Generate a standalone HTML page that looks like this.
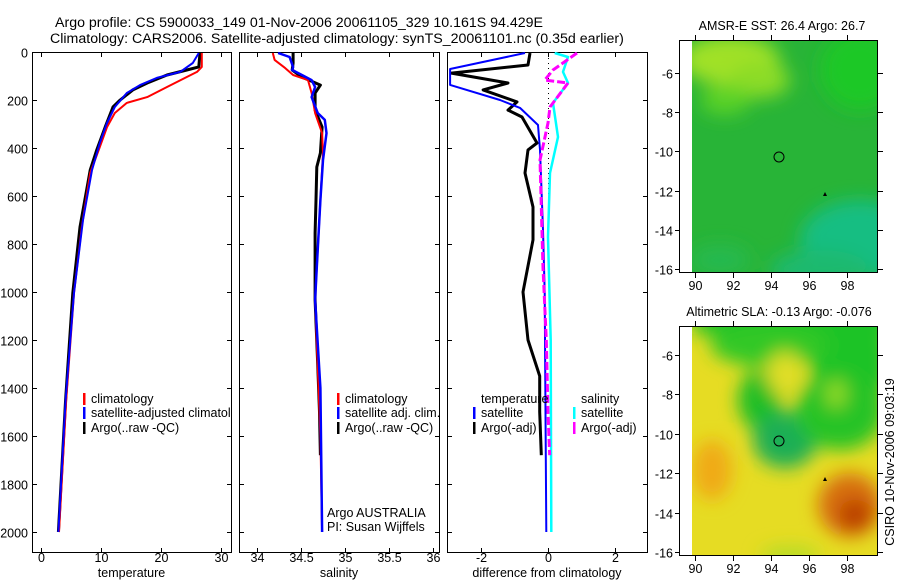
<!DOCTYPE html>
<html><head><meta charset="utf-8">
<style>
html,body{margin:0;padding:0;background:#fff;}
svg{display:block;font-family:"Liberation Sans",sans-serif;}
text{font-size:12.5px;fill:#000;}
</style></head>
<body>
<svg id="chart" width="900" height="580" viewBox="0 0 900 580" xmlns="http://www.w3.org/2000/svg">
<defs>
<clipPath id="c1"><rect x="32" y="52" width="199" height="500"/></clipPath>
<clipPath id="c2"><rect x="239" y="52" width="200" height="500"/></clipPath>
<clipPath id="c3"><rect x="447" y="52" width="200" height="500"/></clipPath>
<clipPath id="m1"><rect x="692" y="40" width="186" height="233"/></clipPath>
<clipPath id="m2"><rect x="692" y="326" width="186" height="230"/></clipPath>
<filter id="bl" x="-50%" y="-50%" width="200%" height="200%"><feGaussianBlur stdDeviation="9"/></filter>
</defs>
<text x="55" y="27" style="font-size:14.2px">Argo profile: CS 5900033_149 01-Nov-2006 20061105_329 10.161S 94.429E</text>
<text x="50" y="43" style="font-size:14.2px">Climatology: CARS2006. Satellite-adjusted climatology: synTS_20061101.nc (0.35d earlier)</text>

<g>
<text x="782" y="30" text-anchor="middle">AMSR-E SST: 26.4 Argo: 26.7</text>
<g clip-path="url(#m1)">
<rect x="692" y="40" width="186" height="233" fill="rgb(40,180,55)"/>
<g filter="url(#bl)">
<ellipse cx="860" cy="70" rx="40" ry="40" fill="rgb(30,200,40)"/>
<ellipse cx="730" cy="60" rx="50" ry="25" fill="rgb(160,225,40)"/>
<ellipse cx="760" cy="80" rx="30" ry="18" fill="rgb(140,220,40)"/>
<ellipse cx="725" cy="100" rx="25" ry="15" fill="rgb(90,210,40)"/>
<ellipse cx="860" cy="240" rx="60" ry="40" fill="rgb(20,190,130)"/>
<ellipse cx="820" cy="270" rx="50" ry="20" fill="rgb(30,185,110)"/>
<ellipse cx="720" cy="260" rx="30" ry="15" fill="rgb(40,185,80)"/>
</g>
</g>
<rect x="679.5" y="40.5" width="198" height="232" fill="none" stroke="#000"/>
<circle cx="779" cy="157" r="5" fill="none" stroke="#000"/>
<path d="M823,196 l2,-4 l2,4z" fill="#000"/>
</g>
<g>
<text x="779" y="316" text-anchor="middle">Altimetric SLA: -0.13 Argo: -0.076</text>
<g clip-path="url(#m2)">
<rect x="692" y="326" width="186" height="230" fill="rgb(230,220,35)"/>
<g filter="url(#bl)">
<rect x="694" y="300" width="200" height="34" fill="rgb(30,195,40)"/>
<ellipse cx="850" cy="360" rx="40" ry="60" fill="rgb(30,195,40)"/>
<ellipse cx="770" cy="345" rx="60" ry="22" fill="rgb(50,200,40)"/>
<ellipse cx="760" cy="400" rx="22" ry="30" fill="rgb(30,190,40)"/>
<ellipse cx="785" cy="440" rx="32" ry="28" fill="rgb(30,175,85)"/>
<ellipse cx="840" cy="410" rx="45" ry="40" fill="rgb(40,195,40)"/>
<ellipse cx="785" cy="374" rx="18" ry="22" fill="rgb(225,222,40)"/>
<ellipse cx="836" cy="394" rx="10" ry="14" fill="rgb(150,220,40)"/>
<ellipse cx="850" cy="505" rx="32" ry="32" fill="rgb(215,110,10)"/>
<ellipse cx="855" cy="515" rx="16" ry="16" fill="rgb(185,60,0)"/>
<ellipse cx="712" cy="470" rx="20" ry="30" fill="rgb(240,170,25)"/>
<ellipse cx="790" cy="556" rx="30" ry="10" fill="rgb(180,220,40)"/>
</g>
</g>
<rect x="679.5" y="326.5" width="198" height="229" fill="none" stroke="#000"/>
<circle cx="779" cy="441" r="5" fill="none" stroke="#000"/>
<path d="M823,481 l2,-4 l2,4z" fill="#000"/>
</g>
<text transform="translate(894,462) rotate(-90)" text-anchor="middle">CSIRO 10-Nov-2006 09:03:19</text>
<g id="dyn"></g>
</svg>
<script>
const depthTicks = [0,200,400,600,800,1000,1200,1400,1600,1800,2000];
const tempTicks = [0,10,20,30];
const salTicks = [34,34.5,35,35.5,36];
const salTickLabels = ["34","34.5","35","35.5","36"];
const diffTicks = [-2,0,2];
const latTicks = [-6,-8,-10,-12,-14,-16];
const lonTicks = [90,92,94,96,98];

const climTdepth = [4,62,83,104,146,188,212,254,313,396,504,729,1004,1450,2000];
const climT = [26.8,26.8,26.0,24.3,21,17.7,14.3,12.3,11,9.8,8.2,6.8,5.5,4.2,3.0];
const satTdepth = [4,46,83,108,138,171,229,296,379,492,700,1004,1450,2000];
const satT = [26.3,25.3,23.2,19.3,16.5,14.3,12.3,11,9.8,8.5,7,5.5,4.1,2.9];
const argoTdepth = [4,62,75,96,129,158,200,229,313,408,492,729,1004,1450,2000];
const argoT = [26.5,26.3,24.3,21,17.7,15.3,13.2,12,10.7,9.3,8.2,6.5,5.3,4.1,2.9];

const climSdepth = [4,33,67,96,117,171,254,338,421,617,896,1033,1400,1600,2000];
const climS = [34.18,34.2,34.32,34.41,34.58,34.62,34.66,34.74,34.75,34.72,34.68,34.66,34.7,34.72,34.74];
const satSdepth = [4,21,63,75,96,117,146,188,254,283,338,450,617,896,1033,1400,2000];
const satS = [34.24,34.37,34.41,34.4,34.51,34.62,34.66,34.62,34.69,34.77,34.79,34.75,34.72,34.68,34.66,34.72,34.74];
const argoSdepth = [4,46,75,104,138,171,242,313,421,479,617,754,1033,1300,1500,1680];
const argoS = [34.41,34.41,34.4,34.51,34.72,34.66,34.66,34.74,34.72,34.68,34.67,34.66,34.66,34.69,34.71,34.72];

const dSatTdepth = [4,71,137,200,233,304,408,742,1000,2000];
const dSatT = [-0.69,-2.94,-2.94,-1.44,-0.84,-0.3,-0.24,-0.15,-0.1,-0.05];
const dArgoTdepth = [4,54,88,129,158,208,242,271,379,408,504,646,783,1000,1200,1350,1500,1680];
const dArgoT = [-0.54,-0.6,-2.9,-1.2,-1.95,-0.93,-1.2,-0.78,-0.33,-0.6,-0.69,-0.45,-0.45,-0.75,-0.6,-0.25,-0.25,-0.2];
const dSatSdepth = [4,21,83,129,212,354,504,771,1200,2000];
const dSatS = [0.2,0.6,0.45,0.6,0.15,0.3,0.06,0.0,0.08,0.1];
const dArgoSdepth = [4,75,117,129,229,296,450,646,900,1200,1500,1680];
const dArgoS = [0.87,0.15,-0.1,0.6,0.06,0.0,-0.24,-0.2,-0.15,-0.05,0.0,0.05];

const yD = d => 52 + d*0.24;
const xT = t => 41 + t*6;
const xS = s => 257 + (s-34)*88;
const xDf = v => 548 + v*33.3;
const yLat1 = l => 73 + (-6-l)*19.6;
const yLat2 = l => 355 + (-6-l)*19.7;
const xLon = l => 695 + (l-90)*19;

const NS="http://www.w3.org/2000/svg";
const dyn=document.getElementById('dyn');
function mk(tag,attrs,parent){const e=document.createElementNS(NS,tag);for(const k in attrs)e.setAttribute(k,attrs[k]);(parent||dyn).appendChild(e);return e;}
function txt(x,y,s,anchor,parent){const e=mk('text',{x:x,y:y,'text-anchor':anchor||'start'},parent);e.textContent=s;return e;}

function line(depths,vals,xf,color,w,clip,name,dash){
  let d='';for(let i=0;i<depths.length;i++){d+=(i?'L':'M')+xf(vals[i]).toFixed(1)+','+yD(depths[i]).toFixed(1);}
  const p=mk('path',{d:d,fill:'none',stroke:color,'stroke-width':w,'clip-path':'url(#'+clip+')','stroke-linejoin':'round'});
  if(dash)p.setAttribute('stroke-dasharray',dash);
  
  
}

function panel(x0,w,ticks,labels,xf,xlabel,name,showY){
  const g=mk('g',{});
  
  
  mk('rect',{x:x0+0.5,y:52.5,width:w,height:500,fill:'none',stroke:'#000'},g);
  depthTicks.forEach(d=>{const y=yD(d)+0.5;
    mk('line',{x1:x0,x2:x0+5,y1:y,y2:y,stroke:'#000'},g);
    mk('line',{x1:x0+w-4,x2:x0+w+1,y1:y,y2:y,stroke:'#000'},g);
    if(showY){txt(28,y+5,String(d),'end',g);}
  });
  ticks.forEach((t,i)=>{const x=Math.round(xf(t))+0.5;
    mk('line',{x1:x,x2:x,y1:52,y2:57,stroke:'#000'},g);
    mk('line',{x1:x,x2:x,y1:548,y2:553,stroke:'#000'},g);
    txt(x,562,labels[i],'middle',g);
  });
  txt(x0+w/2,577,xlabel,'middle',g);
}
panel(32,199,tempTicks,tempTicks.map(String),xT,'temperature','temperature-panel',true);
panel(239,200,salTicks,salTickLabels,xS,'salinity','salinity-panel',false);
panel(447,200,diffTicks,diffTicks.map(String),xDf,'difference from climatology','difference-panel',false);

const zl=mk('line',{x1:548.5,x2:548.5,y1:53,y2:200,stroke:'#000','stroke-dasharray':'1,4'});



line(argoTdepth,argoT,xT,'#000',3,'c1','argo-temperature-line');
line(climTdepth,climT,xT,'#f00',2,'c1','climatology-temperature-line');
line(satTdepth,satT,xT,'#00f',2,'c1','satellite-temperature-line');

line(argoSdepth,argoS,xS,'#000',3,'c2','argo-salinity-line');
line(climSdepth,climS,xS,'#f00',2,'c2','climatology-salinity-line');
line(satSdepth,satS,xS,'#00f',2.5,'c2','satellite-salinity-line');

line(dArgoTdepth,dArgoT,xDf,'#000',3,'c3','argo-temperature-diff-line');
line(dSatTdepth,dSatT,xDf,'#00f',2,'c3','satellite-temperature-diff-line');
line(dSatSdepth,dSatS,xDf,'#0ff',2.5,'c3','satellite-salinity-diff-line');
line(dArgoSdepth,dArgoS,xDf,'#f0f',3,'c3','argo-salinity-diff-line','8,3');

function legend(x,y,color,label,clip,name){
  const g=mk('g',{'clip-path':clip?'url(#'+clip+')':''});
  
  
  if(color)mk('rect',{x:x,y:y-10,width:2.5,height:12,fill:color},g);
  txt(x+8,y,label,'start',g);
}
legend(83,403,'#f00','climatology','c1','legend-climatology');
legend(83,417,'#00f','satellite-adjusted climatology','c1','legend-satellite-adjusted');
legend(83,432,'#000','Argo(..raw -QC)','c1','legend-argo');
legend(337,403,'#f00','climatology','c2','legend-climatology-2');
legend(337,417,'#00f','satellite adj. clim.','c2','legend-satellite-adj');
legend(337,432,'#000','Argo(..raw -QC)','c2','legend-argo-2');
legend(473,403,null,'temperature','c3','legend-temperature-header');
legend(473,417,'#00f','satellite','c3','legend-temp-satellite');
legend(473,432,'#000','Argo(-adj)','c3','legend-temp-argo');
legend(573,403,null,'salinity','c3','legend-salinity-header');
legend(573,417,'#0ff','satellite','c3','legend-sal-satellite');
legend(573,432,'#f0f','Argo(-adj)','c3','legend-sal-argo');
const a1=txt(327,517,'Argo AUSTRALIA');


const a2=txt(327,531,'PI: Susan Wijffels');



function mapAxes(yl,y0,y1,name){
  const g=mk('g',{});
  
  
  latTicks.forEach(l=>{const y=Math.round(yl(l))+0.5;
    mk('line',{x1:675,x2:680,y1:y,y2:y,stroke:'#000'},g);
    mk('line',{x1:878,x2:883,y1:y,y2:y,stroke:'#000'},g);
    txt(673,y+5,String(l),'end',g);
  });
  lonTicks.forEach(l=>{const x=Math.round(xLon(l))+0.5;
    mk('line',{x1:x,x2:x,y1:y1,y2:y1+5,stroke:'#000'},g);
    mk('line',{x1:x,x2:x,y1:y0-5,y2:y0,stroke:'#000'},g);
    txt(x,y1+17,String(l),'middle',g);
  });
}
mapAxes(yLat1,40,273,'sst-map-axes');
mapAxes(yLat2,326,556,'sla-map-axes');
</script>
</body></html>
